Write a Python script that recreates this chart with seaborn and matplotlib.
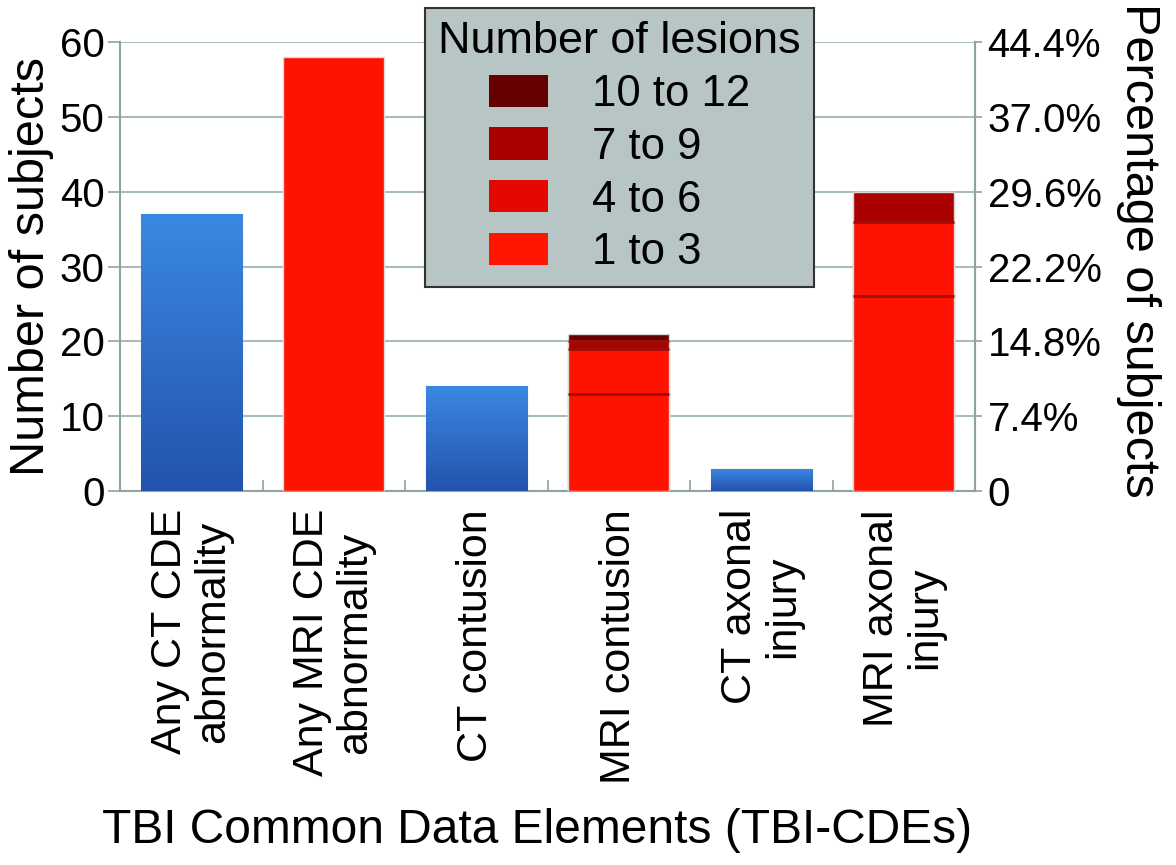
"""Bar chart of TBI common data element findings (CT vs MRI) with lesion-count stacks."""

import matplotlib.pyplot as plt
import numpy as np
import pandas as pd
import seaborn as sns
from matplotlib.colors import LinearSegmentedColormap
from matplotlib.patches import Patch
from matplotlib.ticker import FixedLocator


CATEGORIES = [
    "Any CT CDE\nabnormality",
    "Any MRI CDE\nabnormality",
    "CT contusion",
    "MRI contusion",
    "CT axonal\ninjury",
    "MRI axonal\ninjury",
]
MODALITY = ["CT", "MRI", "CT", "MRI", "CT", "MRI"]
TOTALS = [37, 58, 14, 21, 3, 40]

LESION_BINS = ["1 to 3", "4 to 6", "7 to 9", "10 to 12"]
LEGEND_COLORS = ["#ff1500", "#e30800", "#aa0000", "#660000"]
BAR_COLORS = ["#ff1200", "#ff1200", "#aa0000", "#660000"]
MRI_CONTUSION_BINS = [13, 6, 1, 1]
MRI_AXONAL_BINS = [26, 10, 4, 0]

N_SUBJECTS = 135
Y_TICKS = [0, 10, 20, 30, 40, 50, 60]

FONT = ["Liberation Sans", "DejaVu Sans"]
GRID_COLOR = "#a9bcbc"
AXIS_COLOR = "#8fa3a3"


def build_layers() -> pd.DataFrame:
    """Cumulative heights per lesion bin, drawn from the top bin downwards."""
    rows = []
    stacked = {"MRI contusion": MRI_CONTUSION_BINS, "MRI axonal\ninjury": MRI_AXONAL_BINS}
    for name, counts in stacked.items():
        cumulative = np.cumsum(counts)
        for lesion_bin, height in zip(LESION_BINS, cumulative):
            rows.append({"category": name, "layer": lesion_bin, "height": height})
    for name, modality, total in zip(CATEGORIES, MODALITY, TOTALS):
        if name in stacked:
            continue
        layer = "1 to 3" if modality == "MRI" else "CT"
        rows.append({"category": name, "layer": layer, "height": total})
    return pd.DataFrame(rows)


def add_gradient(ax, container, cmap) -> None:
    for patch in container.patches:
        x0, y0 = patch.get_x(), patch.get_y()
        x1, y1 = x0 + patch.get_width(), y0 + patch.get_height()
        grad = np.linspace(0, 1, 256).reshape(-1, 1)
        img = ax.imshow(grad, extent=[x0, x1, y0, y1], origin="lower", aspect="auto",
                        cmap=cmap, zorder=patch.get_zorder() + 0.1)
        img.set_clip_path(patch)


def main() -> None:
    sns.set_style("white")
    plt.rcParams["font.family"] = FONT
    plt.rcParams["text.color"] = "black"
    plt.rcParams["axes.labelcolor"] = "black"

    fig = plt.figure(figsize=(11.76, 8.65), dpi=100)
    ax = fig.add_axes([120 / 1176, 1 - 491 / 865, 855 / 1176, 449 / 865])

    layers = build_layers()
    totals = dict(zip(CATEGORIES, TOTALS))
    draw_order = list(reversed(LESION_BINS))
    for lesion_bin in draw_order:
        color = BAR_COLORS[LESION_BINS.index(lesion_bin)]
        sub = layers[layers["layer"] == lesion_bin]
        sns.barplot(data=sub, x="category", y="height", order=CATEGORIES, color=color,
                    width=0.71, edgecolor="#d9d9d9", linewidth=1.0, saturation=1,
                    errorbar=None, ax=ax, zorder=3)
        # dark separator where a segment ends below the bar top
        for patch in ax.containers[-1].patches:
            h = patch.get_height()
            if np.isnan(h) or h <= 0:
                continue
            cat = CATEGORIES[int(round(patch.get_x() + patch.get_width() / 2))]
            if h < totals[cat]:
                ax.hlines(h, patch.get_x(), patch.get_x() + patch.get_width(),
                          color="#9c0c08", linewidth=2, zorder=5)

    ct = layers[layers["layer"] == "CT"]
    sns.barplot(data=ct, x="category", y="height", order=CATEGORIES, color="#2f6fcf",
                width=0.71, edgecolor="#d9d9d9", linewidth=1.0, saturation=1,
                errorbar=None, ax=ax, zorder=3)
    blue = LinearSegmentedColormap.from_list("blue_grad", ["#2353ad", "#3a88e3"])
    add_gradient(ax, ax.containers[-1], blue)

    ax.set_xlim(-0.5, 5.5)
    ax.set_ylim(0, 60)
    ax.set_yticks(Y_TICKS)
    ax.set_yticklabels([str(t) for t in Y_TICKS], fontsize=29)
    ax.yaxis.grid(True, color=GRID_COLOR, linewidth=1.5, zorder=0)
    ax.set_axisbelow(True)

    ax.set_xticks(range(len(CATEGORIES)))
    ax.set_xticklabels(CATEGORIES, rotation=90, fontsize=31, ha="center", va="top",
                       linespacing=1.1)
    ax.xaxis.set_minor_locator(FixedLocator([0.5, 1.5, 2.5, 3.5, 4.5]))
    ax.tick_params(axis="x", which="major", length=0, pad=13, labelcolor="black")
    ax.tick_params(axis="x", which="minor", direction="in", length=8, width=1.2,
                   color=AXIS_COLOR, bottom=True)
    ax.tick_params(axis="y", which="major", direction="out", length=9, width=1.2,
                   color=AXIS_COLOR, left=True, pad=2, labelcolor="black")

    ax.spines["top"].set_visible(False)
    for side in ["left", "bottom", "right"]:
        ax.spines[side].set_color(AXIS_COLOR)
        ax.spines[side].set_linewidth(1.5)

    ax.set_ylabel("Number of subjects", fontsize=35, labelpad=4)
    ax.set_xlabel("TBI Common Data Elements (TBI-CDEs)", fontsize=34.5)
    ax.xaxis.set_label_coords(537 / 1176, 1 - 808 / 865, transform=fig.transFigure)

    ax2 = ax.twinx()
    ax2.set_ylim(0, 60)
    ax2.set_yticks(Y_TICKS)
    pct_labels = ["0" if t == 0 else f"{100 * t / N_SUBJECTS:.1f}%" for t in Y_TICKS]
    ax2.set_yticklabels(pct_labels, fontsize=29)
    ax2.tick_params(axis="y", direction="out", length=5, width=1.2, color=AXIS_COLOR,
                    right=True, pad=4, labelcolor="black")
    for side in ["top", "left", "bottom"]:
        ax2.spines[side].set_visible(False)
    ax2.spines["right"].set_color(AXIS_COLOR)
    ax2.spines["right"].set_linewidth(1.5)
    ax2.set_ylabel("Percentage of subjects", fontsize=35, rotation=270)
    ax2.yaxis.set_label_coords(1138 / 1176, 1 - 250 / 865, transform=fig.transFigure)
    ax2.yaxis.label.set_horizontalalignment("center")
    ax2.yaxis.label.set_verticalalignment("center")

    handles = [Patch(facecolor=LEGEND_COLORS[LESION_BINS.index(b)], edgecolor="none", label=b)
               for b in draw_order]
    leg = fig.legend(handles=handles, title="Number of lesions", loc="upper left",
                     bbox_to_anchor=(425 / 1176, 1 - 8 / 865), fontsize=31.5,
                     title_fontsize=32.4, frameon=True, fancybox=False,
                     handlelength=1.35, handleheight=0.75, handletextpad=1.0,
                     labelspacing=0.27, borderpad=0.3, borderaxespad=0)
    leg.get_frame().set_facecolor("#b7c5c4")
    leg.get_frame().set_edgecolor("#333333")
    leg.get_frame().set_linewidth(1.5)
    leg.get_frame().set_alpha(1)

    fig.savefig("out.png", dpi=100)
    plt.close(fig)


if __name__ == "__main__":
    main()
